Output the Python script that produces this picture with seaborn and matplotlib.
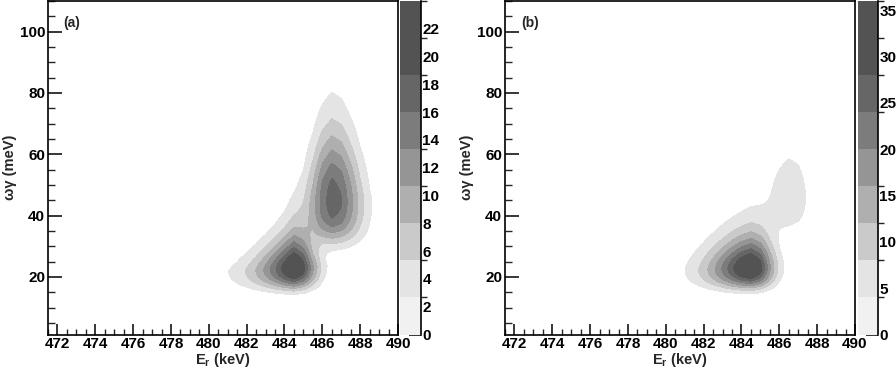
import numpy as np
import matplotlib
matplotlib.use("Agg")
import matplotlib.pyplot as plt
from matplotlib.colors import ListedColormap, BoundaryNorm
from matplotlib.ticker import MultipleLocator
import seaborn as sns

# Peak parameters (E_r in keV, omega-gamma in meV)
# panel (a): lower peak, upper peak
amp_a = [24.0, 17.6]
er_a = [484.5, 486.55]
wg_a = [23.0, 45.0]
sig_left_a = [1.1, 0.9]
pow_left_a = [1.3, 2.0]
sig_right_a = [0.8, 1.05]
pow_right_a = [2.0, 2.0]
sig_u_a = [0.027, 0.0215]
pow_u_a = [2.0, 2.4]
tilt_a = [0.0015, 0.0]
narrow_a = [0.2, 0.15]

# panel (b): main peak, small bump
amp_b = [36.0, 6.5]
er_b = [484.5, 486.6]
wg_b = [23.0, 46.0]
sig_left_b = [1.39, 0.9]
pow_left_b = [1.62, 2.0]
sig_right_b = [0.8, 0.8]
pow_right_b = [2.0, 2.0]
sig_u_b = [0.026, 0.017]
pow_u_b = [2.0, 2.0]
tilt_b = [0.001, 0.0]
narrow_b = [0.05, 0.0]

zmax_a = 24
zmax_b = 36
cbar_ticks_a = [0, 2, 4, 6, 8, 10, 12, 14, 16, 18, 20, 22]
cbar_ticks_b = [0, 5, 10, 15, 20, 25, 30, 35]
band_colors = ["#f1f1f1", "#e4e4e4", "#cacaca", "#afafaf", "#959595",
               "#7c7c7c", "#666666", "#535353", "#535353"]

# scan grid (0.5 keV steps in E_r, fine in omega-gamma)
er_scan = np.arange(471.5, 490.01, 0.5)
wg_scan = np.arange(1.0, 110.01, 0.25)


def likelihood_map(amp, er0, wg0, sl, pl, sr, pr, su, pu, tilt, narrow):
    E, W = np.meshgrid(er_scan, wg_scan)
    U = W ** -0.5
    Z = np.zeros_like(E)
    for A, x0, y0, l, lp, r, rp, s, q, k, n in zip(amp, er0, wg0, sl, pl, sr, pr,
                                                    su, pu, tilt, narrow):
        dx = E - x0
        uc = y0 ** -0.5 - k * dx
        t = (U - uc) / s
        # peaks get narrower in E_r towards larger omega-gamma (teardrop shape)
        shrink = np.clip(1 + n * np.minimum(t, 0), 0.08, None)
        fx = np.where(dx < 0, np.exp(-0.5 * (np.abs(dx) / (l * shrink)) ** lp),
                      np.exp(-0.5 * (np.abs(dx) / (r * shrink)) ** rp))
        fy = np.exp(-0.5 * np.abs(t) ** q)
        Z += A * fx * fy
    return E, W, Z


sns.set_theme(style="ticks")
plt.rcParams["font.family"] = ["Liberation Sans", "DejaVu Sans"]
plt.rcParams["font.weight"] = "bold"
plt.rcParams["mathtext.fontset"] = "custom"
plt.rcParams["mathtext.rm"] = "Liberation Sans:bold"
plt.rcParams["mathtext.bf"] = "Liberation Sans:bold"
plt.rcParams["axes.linewidth"] = 1.2

fig = plt.figure(figsize=(8.96, 3.78), dpi=100)

panels = [
    ("(a)", likelihood_map(amp_a, er_a, wg_a, sig_left_a, pow_left_a, sig_right_a,
                           pow_right_a, sig_u_a, pow_u_a, tilt_a, narrow_a),
     zmax_a, cbar_ticks_a, 48, 400, 21),
    ("(b)", likelihood_map(amp_b, er_b, wg_b, sig_left_b, pow_left_b, sig_right_b,
                           pow_right_b, sig_u_b, pow_u_b, tilt_b, narrow_b),
     zmax_b, cbar_ticks_b, 505, 858, 20),
]

W_PX, H_PX = 896, 378
bottom = (H_PX - 334.5) / H_PX
height = 333.5 / H_PX

for tag, (E, W, Z), zmax, cticks, left_px, cbar_px, cbar_w in panels:
    ax = fig.add_axes([left_px / W_PX, bottom, 350 / W_PX, height])
    levels = np.linspace(0, zmax, 10)
    ax.contourf(E, W, Z, levels=levels[1:], colors=band_colors[1:])
    ax.set_xlim(471.5, 490)
    ax.set_ylim(1.2, 110)
    ax.xaxis.set_major_locator(MultipleLocator(2))
    ax.xaxis.set_minor_locator(MultipleLocator(0.5))
    ax.yaxis.set_major_locator(MultipleLocator(20))
    ax.yaxis.set_minor_locator(MultipleLocator(5))
    ax.set_yticks([20, 40, 60, 80, 100])
    ax.tick_params(which="major", direction="in", length=8, width=1.1,
                   labelsize=11, pad=2, colors="black")
    ax.tick_params(which="minor", direction="in", length=4, width=1.0)
    ax.tick_params(axis="y", which="major", length=10)
    ax.tick_params(axis="y", which="minor", length=5)
    for lab in ax.get_xticklabels() + ax.get_yticklabels():
        lab.set_fontweight("bold")
    for sp in ax.spines.values():
        sp.set_color("black")
    ax.set_xlabel(r"$\mathdefault{E_r}$ (keV)", fontsize=10.5, fontweight="bold", labelpad=0)
    ax.set_ylabel("ωγ (meV)", fontsize=10.5, fontweight="bold", labelpad=2)
    ax.text(0.045, 0.955, tag, transform=ax.transAxes, fontsize=10,
            fontweight="bold", va="top", ha="left")

    cax = fig.add_axes([cbar_px / W_PX, bottom, cbar_w / W_PX, height])
    sm = plt.cm.ScalarMappable(cmap=ListedColormap(band_colors),
                               norm=BoundaryNorm(levels, 9))
    cb = fig.colorbar(sm, cax=cax, ticks=cticks)
    cb.outline.set_visible(False)
    cax.spines["right"].set_visible(True)
    cax.spines["right"].set_linewidth(1.2)
    cax.spines["right"].set_color("black")
    cax.tick_params(direction="in", length=9, width=1.1, labelsize=11,
                    pad=1, colors="black")
    cax.set_yticklabels([str(t) for t in cticks], fontweight="bold")

fig.savefig("out.png", dpi=100)
